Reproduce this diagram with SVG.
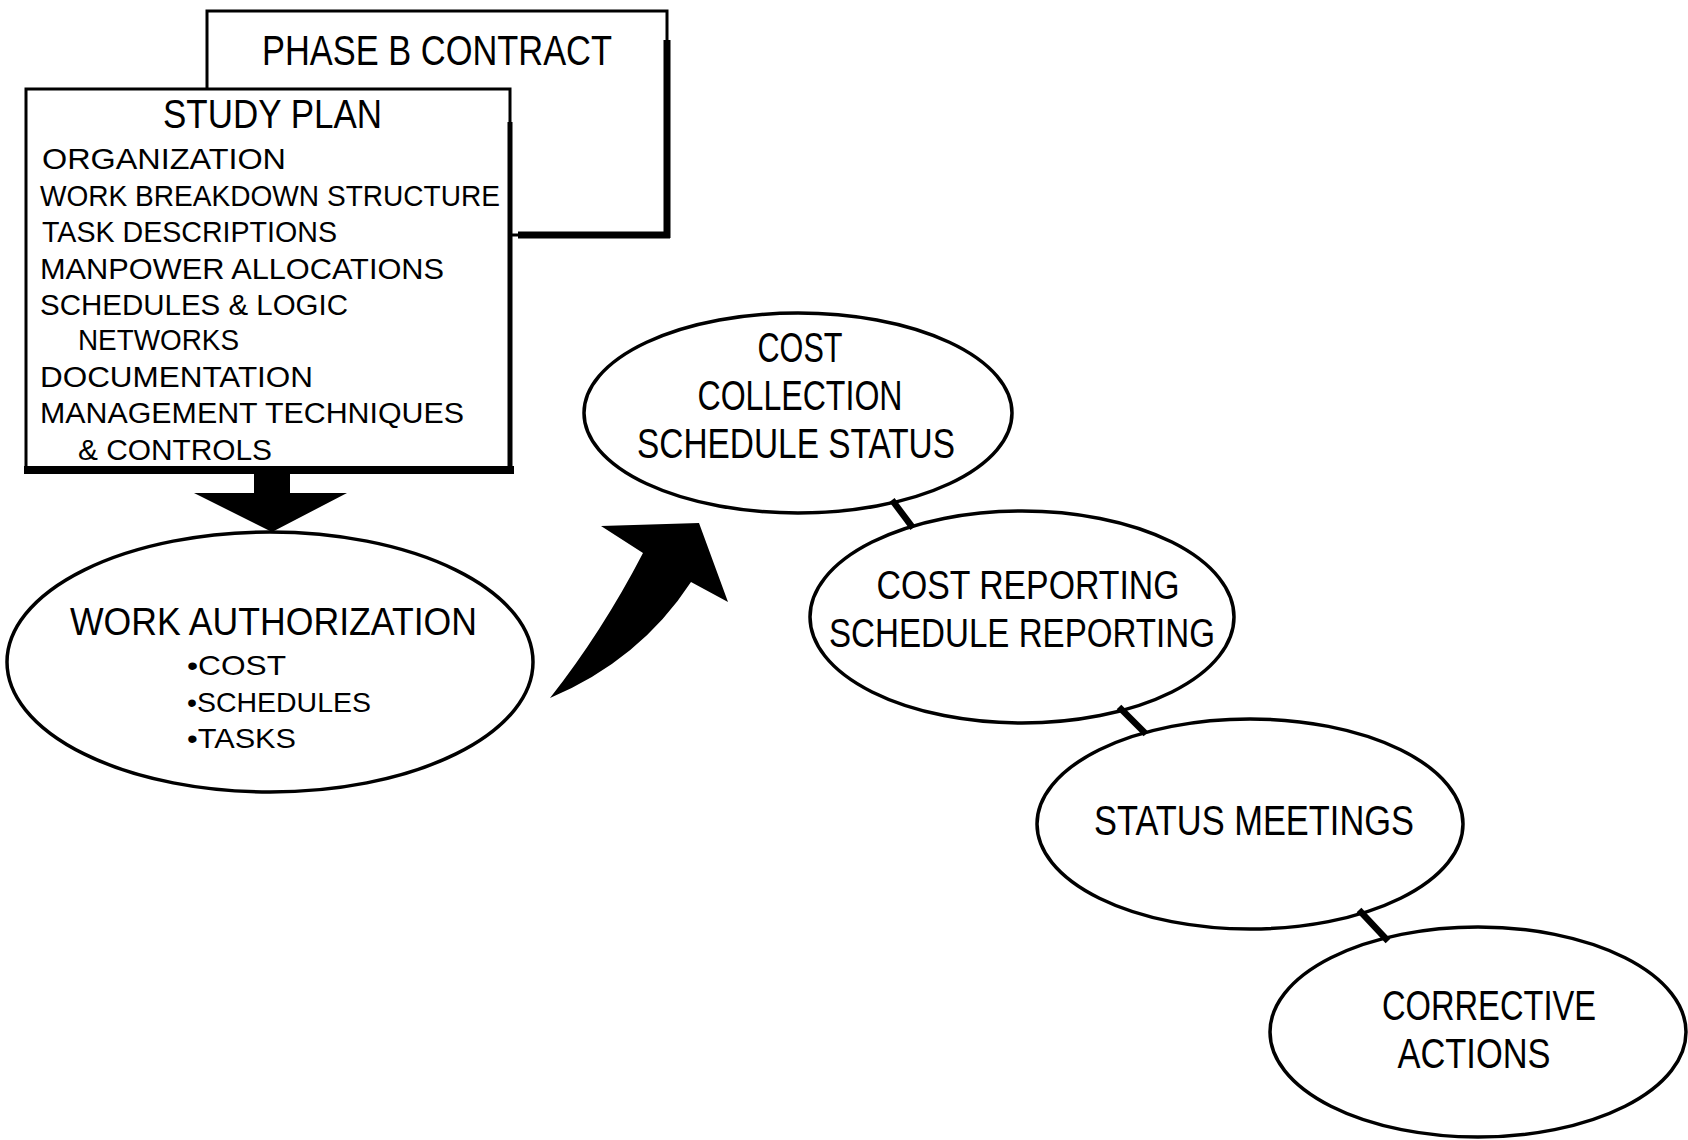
<svg xmlns="http://www.w3.org/2000/svg" width="1688" height="1140" viewBox="0 0 1688 1140">
<style>
.box{fill:#fff;stroke:#000;stroke-width:3}
.ell{fill:#fff;stroke:#000;stroke-width:3.5}
.thick{stroke:#000;fill:none}
.c{font-family:"Liberation Sans Narrow","Liberation Sans",Arial,sans-serif;fill:#000}
.g{font-family:"Liberation Sans","DejaVu Sans",Arial,sans-serif;fill:#000}
.conn{stroke:#000;stroke-width:6.5;stroke-linecap:butt}
</style>
<rect width="1688" height="1140" fill="#fff"/>
<g id="phase-b">
  <rect class="box" x="207" y="11" width="460" height="224"/>
  <line class="thick" x1="667" y1="40" x2="667" y2="238" stroke-width="7"/>
  <line class="thick" x1="518" y1="235" x2="670" y2="235" stroke-width="7"/>
  <text class="c" x="262" y="65" font-size="42" textLength="350" lengthAdjust="spacingAndGlyphs">PHASE B CONTRACT</text>
</g>
<g id="study-plan">
  <rect class="box" x="26" y="89" width="484" height="380"/>
  <line class="thick" x1="510" y1="122" x2="510" y2="474" stroke-width="5"/>
  <line class="thick" x1="24" y1="470" x2="514" y2="470" stroke-width="8"/>
  <text class="c" x="163" y="128" font-size="40" textLength="219" lengthAdjust="spacingAndGlyphs">STUDY PLAN</text>
  <g class="g" font-size="30">
    <text x="42" y="169" textLength="244" lengthAdjust="spacingAndGlyphs">ORGANIZATION</text>
    <text x="40" y="206" textLength="460" lengthAdjust="spacingAndGlyphs">WORK BREAKDOWN STRUCTURE</text>
    <text x="42" y="242" textLength="295" lengthAdjust="spacingAndGlyphs">TASK DESCRIPTIONS</text>
    <text x="40" y="279" textLength="404" lengthAdjust="spacingAndGlyphs">MANPOWER ALLOCATIONS</text>
    <text x="40" y="315" textLength="308" lengthAdjust="spacingAndGlyphs">SCHEDULES &amp; LOGIC</text>
    <text x="78" y="350" textLength="161" lengthAdjust="spacingAndGlyphs">NETWORKS</text>
    <text x="40" y="387" textLength="273" lengthAdjust="spacingAndGlyphs">DOCUMENTATION</text>
    <text x="40" y="423" textLength="424" lengthAdjust="spacingAndGlyphs">MANAGEMENT TECHNIQUES</text>
    <text x="78" y="460" textLength="194" lengthAdjust="spacingAndGlyphs">&amp; CONTROLS</text>
  </g>
</g>
<g id="work-authorization">
  <ellipse class="ell" cx="270" cy="662" rx="263" ry="130"/>
  <text class="c" x="70" y="635" font-size="39" textLength="407" lengthAdjust="spacingAndGlyphs">WORK AUTHORIZATION</text>
  <g class="g" font-size="28">
    <text x="187" y="675" textLength="99" lengthAdjust="spacingAndGlyphs">•COST</text>
    <text x="187" y="712" textLength="184" lengthAdjust="spacingAndGlyphs">•SCHEDULES</text>
    <text x="187" y="748" textLength="109" lengthAdjust="spacingAndGlyphs">•TASKS</text>
  </g>
</g>
<g id="cost-collection">
  <ellipse class="ell" cx="798" cy="413" rx="214" ry="100"/>
  <g class="c" font-size="42" text-anchor="middle">
    <text x="800" y="362" textLength="85" lengthAdjust="spacingAndGlyphs">COST</text>
    <text x="800" y="410" textLength="205" lengthAdjust="spacingAndGlyphs">COLLECTION</text>
    <text x="796" y="458" textLength="318" lengthAdjust="spacingAndGlyphs">SCHEDULE STATUS</text>
  </g>
</g>
<g id="cost-reporting">
  <ellipse class="ell" cx="1022" cy="617" rx="212" ry="106"/>
  <g class="c" font-size="41" text-anchor="middle">
    <text x="1028" y="599" textLength="303" lengthAdjust="spacingAndGlyphs">COST REPORTING</text>
    <text x="1022" y="647" textLength="386" lengthAdjust="spacingAndGlyphs">SCHEDULE REPORTING</text>
  </g>
</g>
<g id="status-meetings">
  <ellipse class="ell" cx="1250" cy="824" rx="213" ry="105"/>
  <text class="c" x="1254" y="835" font-size="42" text-anchor="middle" textLength="320" lengthAdjust="spacingAndGlyphs">STATUS MEETINGS</text>
</g>
<g id="corrective-actions">
  <ellipse class="ell" cx="1478" cy="1032" rx="208" ry="105"/>
  <g class="c" font-size="42" text-anchor="middle">
    <text x="1489" y="1020" textLength="214" lengthAdjust="spacingAndGlyphs">CORRECTIVE</text>
    <text x="1474" y="1068" textLength="153" lengthAdjust="spacingAndGlyphs">ACTIONS</text>
  </g>
</g>
<g id="connectors">
  <polygon points="254,472 290,472 290,493 347,493 272,532 194,493 254,493" fill="#000"/>
  <path d="M550,698 Q602,632 643,553 L601,526 L699,523 L728,602 L691,582 Q640,660 550,698 Z" fill="#000"/>
  <line class="conn" x1="892" y1="500" x2="913" y2="528"/>
  <line class="conn" x1="1119" y1="707" x2="1146" y2="734"/>
  <line class="conn" x1="1359" y1="910" x2="1388" y2="941"/>
</g>
</svg>
